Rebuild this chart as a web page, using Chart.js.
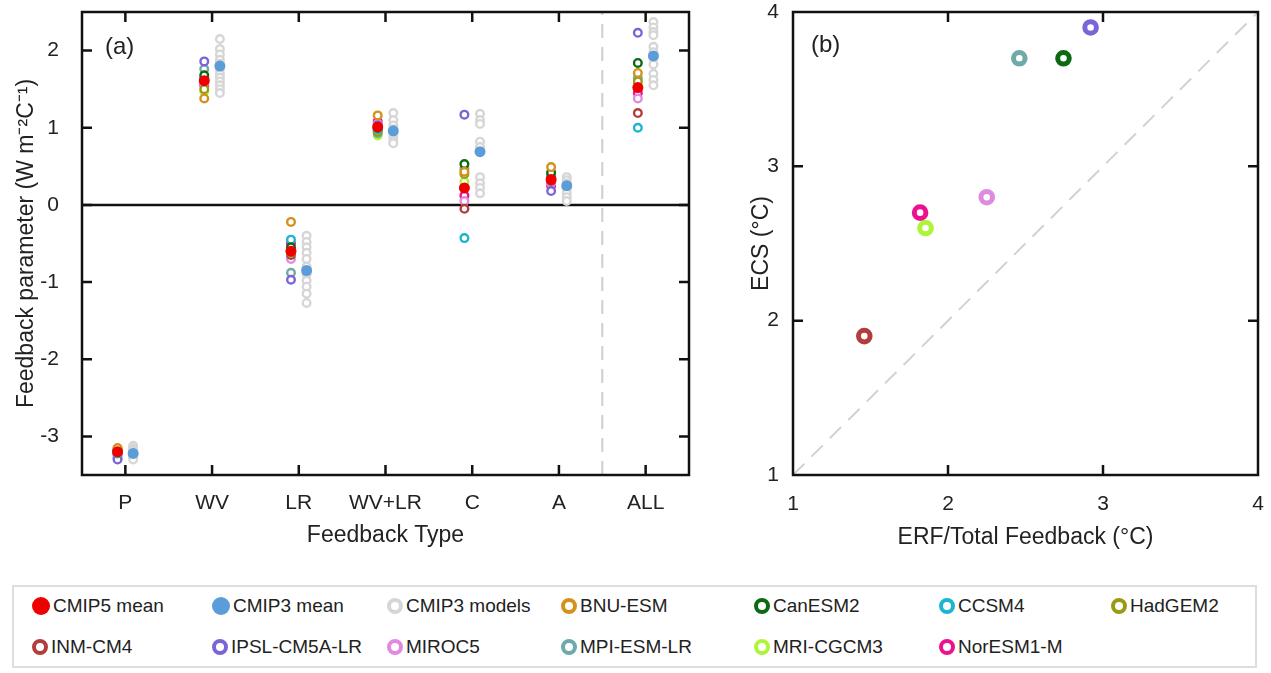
<!DOCTYPE html>
<html>
<head>
<meta charset="utf-8">
<script src="https://cdn.jsdelivr.net/npm/chart.js@4.4.1/dist/chart.umd.min.js"></script>
<style>
body { margin:0; background:#fff; width:1271px; height:673px; overflow:hidden; position:relative; font-family:"Liberation Sans", Arial, sans-serif; }
#chartA { position:absolute; left:0; top:0; }
#chartB { position:absolute; left:700px; top:0; }
#legend { position:absolute; left:12px; top:585px; width:1245px; height:83px; border:2px solid #dedede; box-sizing:border-box; }
.item { position:absolute; height:24px; display:flex; align-items:center; font-size:19px; color:#222; white-space:nowrap; }
.mk { box-sizing:border-box; border-radius:50%; margin-right:3px; }
</style>
</head>
<body>
<canvas id="chartA" width="700" height="560"></canvas>
<canvas id="chartB" width="571" height="560"></canvas>
<div id="legend"></div>
<script>
// feedback types on the x axis of panel (a)
var categories = ["P", "WV", "LR", "WV+LR", "C", "A", "ALL"];
var yTicksA = [-3, -2, -1, 0, 1, 2];
var ticksB = [1, 2, 3, 4];

// multi model means
var cmip5Mean = [-3.20, 1.61, -0.60, 1.01, 0.22, 0.33, 1.52];
var cmip3Mean = [-3.22, 1.80, -0.85, 0.96, 0.69, 0.25, 1.93];

// CMIP5 models, one value per feedback type
var bnuEsm   = [-3.15, 1.38, -0.22, 1.16, 0.43, 0.49, 1.71];
var canEsm2  = [-3.18, 1.68, -0.55, 1.00, 0.53, 0.42, 1.84];
var ccsm4    = [-3.22, 1.65, -0.45, 0.98, -0.43, 0.40, 1.00];
var hadGem2  = [-3.16, 1.50, -0.62, 0.95, 0.40, 0.37, 1.60];
var inmCm4   = [-3.20, 1.62, -0.65, 0.97, -0.05, 0.31, 1.19];
var ipslCm5a = [-3.30, 1.86, -0.97, 1.03, 1.17, 0.18, 2.23];
var miroc5   = [-3.25, 1.58, -0.70, 1.05, 0.05, 0.28, 1.38];
var mpiEsm   = [-3.28, 1.76, -0.88, 0.93, 0.47, 0.38, 1.64];
var mriCgcm3 = [-3.19, 1.47, -0.58, 0.90, 0.30, 0.35, 1.57];
var norEsm1  = [-3.23, 1.55, -0.50, 1.08, 0.12, 0.25, 1.45];

// CMIP3 models, all values for each feedback type
var cmip3P    = [-3.12, -3.15, -3.17, -3.19, -3.21, -3.23, -3.25, -3.27, -3.30];
var cmip3WV   = [2.15, 2.02, 1.95, 1.88, 1.83, 1.76, 1.70, 1.65, 1.60, 1.55, 1.50, 1.45];
var cmip3LR   = [-0.40, -0.48, -0.55, -0.62, -0.70, -0.80, -0.90, -0.98, -1.06, -1.15, -1.27];
var cmip3WVLR = [1.19, 1.10, 1.03, 0.98, 0.93, 0.88, 0.83, 0.80];
var cmip3C    = [1.18, 1.10, 1.05, 0.82, 0.75, 0.36, 0.28, 0.22, 0.15];
var cmip3A    = [0.36, 0.32, 0.28, 0.24, 0.20, 0.15, 0.10, 0.05];
var cmip3ALL  = [2.37, 2.30, 2.24, 2.20, 2.05, 1.98, 1.90, 1.82, 1.70, 1.62, 1.55];
var cmip3Models = [cmip3P, cmip3WV, cmip3LR, cmip3WVLR, cmip3C, cmip3A, cmip3ALL];

// panel (b): ERF / total feedback against ECS
var ecsModels = ["INM-CM4", "NorESM1-M", "MRI-CGCM3", "MIROC5", "MPI-ESM-LR", "CanESM2", "IPSL-CM5A-LR"];
var erfOverFeedback = [1.46, 1.82, 1.855, 2.25, 2.46, 2.745, 2.92];
var ecsValues = [1.90, 2.70, 2.60, 2.80, 3.70, 3.70, 3.90];

var colors = {
    "CMIP5 mean": "#ee0000",
    "CMIP3 mean": "#5b9dd9",
    "CMIP3 models": "#d6d6d6",
    "BNU-ESM": "#d4921c",
    "CanESM2": "#0b6a12",
    "CCSM4": "#1db4d2",
    "HadGEM2": "#9b9a14",
    "INM-CM4": "#b33c3c",
    "IPSL-CM5A-LR": "#7b63d8",
    "MIROC5": "#df8ae0",
    "MPI-ESM-LR": "#70a9a9",
    "MRI-CGCM3": "#aef53a",
    "NorESM1-M": "#ec128f"
};

var cmip5Models = [
    ["BNU-ESM", bnuEsm], ["CanESM2", canEsm2], ["CCSM4", ccsm4], ["HadGEM2", hadGem2],
    ["INM-CM4", inmCm4], ["IPSL-CM5A-LR", ipslCm5a], ["MIROC5", miroc5],
    ["MPI-ESM-LR", mpiEsm], ["MRI-CGCM3", mriCgcm3], ["NorESM1-M", norEsm1]
];

var FONT = '"Liberation Sans", Arial, sans-serif';
var TXT = '#222';

// fixed axis box sizes, no extra padding for edge labels
function fixX(h) {
    return function(s) { s.height = h; s.paddingLeft = 0; s.paddingRight = 0; };
}
function fixY(w) {
    return function(s) { s.width = w; s.paddingTop = 0; s.paddingBottom = 0; };
}

// frame with inward ticks on all four sides + panel letter
function framePlugin(xt, yt, letter, lx, ly) {
    return {
        id: 'frame',
        afterDatasetsDraw: function(chart) {
            var c = chart.ctx, a = chart.chartArea;
            var sx = chart.scales.x, sy = chart.scales.y;
            c.save();
            c.strokeStyle = '#111';
            c.lineWidth = 2.5;
            c.strokeRect(a.left, a.top, a.right - a.left, a.bottom - a.top);
            c.beginPath();
            xt.forEach(function(v) {
                var p = sx.getPixelForValue(v);
                c.moveTo(p, a.top); c.lineTo(p, a.top + 10);
                c.moveTo(p, a.bottom); c.lineTo(p, a.bottom - 10);
            });
            yt.forEach(function(v) {
                var p = sy.getPixelForValue(v);
                c.moveTo(a.left, p); c.lineTo(a.left + 10, p);
                c.moveTo(a.right, p); c.lineTo(a.right - 10, p);
            });
            c.stroke();
            c.fillStyle = TXT;
            c.font = '24px ' + FONT;
            c.textBaseline = 'middle';
            c.fillText(letter, a.left + lx, ly);
            c.restore();
        }
    };
}

function panelA() {
    var datasets = [];
    // CMIP5 mean on top
    datasets.push({
        label: "CMIP5 mean",
        data: cmip5Mean.map(function(v, i) { return {x: i - 0.09, y: v}; }),
        pointRadius: 5.5, borderWidth: 0,
        backgroundColor: colors["CMIP5 mean"], order: 1
    });
    cmip5Models.forEach(function(m) {
        datasets.push({
            label: m[0],
            data: m[1].map(function(v, i) { return {x: i - 0.09, y: v}; }),
            pointRadius: 3.8, borderWidth: 2.4,
            borderColor: colors[m[0]], backgroundColor: '#fff', order: 2
        });
    });
    datasets.push({
        label: "CMIP3 mean",
        data: cmip3Mean.map(function(v, i) { return {x: i + 0.09, y: v}; }),
        pointRadius: 5.5, borderWidth: 0,
        backgroundColor: colors["CMIP3 mean"], order: 3
    });
    var grey = [];
    cmip3Models.forEach(function(list, i) {
        list.forEach(function(v) { grey.push({x: i + 0.09, y: v}); });
    });
    datasets.push({
        label: "CMIP3 models", data: grey,
        pointRadius: 3.8, borderWidth: 2.4,
        borderColor: colors["CMIP3 models"], backgroundColor: '#fff', order: 4
    });
    // zero line and separator
    datasets.push({
        data: [{x: -0.5, y: 0}, {x: 6.5, y: 0}], showLine: true, pointRadius: 0,
        borderColor: '#111', borderWidth: 2.5, order: 8
    });
    datasets.push({
        data: [{x: 5.5, y: -3.5}, {x: 5.5, y: 2.5}], showLine: true, pointRadius: 0,
        borderColor: '#cfcfcf', borderWidth: 2, borderDash: [14, 9], order: 9
    });

    new Chart(document.getElementById("chartA"), {
        type: 'scatter',
        data: {datasets: datasets},
        options: {
            responsive: false, animation: false,
            layout: {padding: {left: 0, right: 11, top: 12, bottom: 0}},
            plugins: {legend: {display: false}, tooltip: {enabled: false}},
            scales: {
                x: {
                    type: 'linear', min: -0.5, max: 6.5,
                    afterBuildTicks: function(s) { s.ticks = categories.map(function(c, i) { return {value: i}; }); },
                    afterFit: fixX(85),
                    grid: {display: false}, border: {display: false},
                    ticks: {
                        autoSkip: false, maxRotation: 0, padding: 8, color: TXT,
                        font: {family: FONT, size: 21},
                        callback: function(v) { return categories[v]; }
                    },
                    title: {display: true, text: 'Feedback Type', color: TXT,
                        font: {family: FONT, size: 23}, padding: {top: 0, bottom: 11}}
                },
                y: {
                    min: -3.5, max: 2.5,
                    afterBuildTicks: function(s) { s.ticks = yTicksA.map(function(v) { return {value: v}; }); },
                    afterFit: fixY(82),
                    grid: {display: false}, border: {display: false},
                    ticks: {padding: 15, color: TXT, font: {family: FONT, size: 21}},
                    title: {display: true, text: 'Feedback parameter (W m\u207B\u00B2C\u207B\u00B9)', color: TXT,
                        font: {family: FONT, size: 23}, padding: {top: 13, bottom: 0}}
                }
            }
        },
        plugins: [framePlugin([0, 1, 2, 3, 4, 5, 6], yTicksA, '(a)', 23, 47)]
    });
}

function panelB() {
    var datasets = ecsModels.map(function(name, i) {
        return {
            label: name,
            data: [{x: erfOverFeedback[i], y: ecsValues[i]}],
            pointRadius: 5.8, borderWidth: 5,
            borderColor: colors[name], backgroundColor: '#fff', order: 1
        };
    });
    datasets.push({
        data: [{x: 1, y: 1}, {x: 4, y: 4}], showLine: true, pointRadius: 0,
        borderColor: '#d2d2d2', borderWidth: 2, borderDash: [16, 10], order: 5
    });

    new Chart(document.getElementById("chartB"), {
        type: 'scatter',
        data: {datasets: datasets},
        options: {
            responsive: false, animation: false,
            layout: {padding: {left: 0, right: 13, top: 12, bottom: 0}},
            plugins: {legend: {display: false}, tooltip: {enabled: false}},
            scales: {
                x: {
                    type: 'linear', min: 1, max: 4,
                    afterBuildTicks: function(s) { s.ticks = ticksB.map(function(v) { return {value: v}; }); },
                    afterFit: fixX(85),
                    grid: {display: false}, border: {display: false},
                    ticks: {padding: 9, color: TXT, font: {family: FONT, size: 21}},
                    title: {display: true, text: 'ERF/Total Feedback (\u00B0C)', color: TXT,
                        font: {family: FONT, size: 23}, padding: {top: 0, bottom: 9}}
                },
                y: {
                    min: 1, max: 4,
                    afterBuildTicks: function(s) { s.ticks = ticksB.map(function(v) { return {value: v}; }); },
                    afterFit: fixY(93),
                    grid: {display: false}, border: {display: false},
                    ticks: {padding: 6, color: TXT, font: {family: FONT, size: 21}},
                    title: {display: true, text: 'ECS (\u00B0C)', color: TXT,
                        font: {family: FONT, size: 23}, padding: {top: 48, bottom: 0}}
                }
            }
        },
        plugins: [framePlugin([2, 3], [2, 3], '(b)', 18, 45)]
    });
}

// legend below both panels
function buildLegend() {
    var entries = [
        ["CMIP5 mean", "fill"], ["CMIP3 mean", "fill"], ["CMIP3 models", "ring"], ["BNU-ESM", "ring"],
        ["CanESM2", "ring"], ["CCSM4", "ring"], ["HadGEM2", "ring"],
        ["INM-CM4", "ring"], ["IPSL-CM5A-LR", "ring"], ["MIROC5", "ring"], ["MPI-ESM-LR", "ring"],
        ["MRI-CGCM3", "ring"], ["NorESM1-M", "ring"]
    ];
    var colX = [41, 221, 396, 570, 763, 948, 1120];
    var rowY = [606, 647];
    var box = document.getElementById("legend");
    entries.forEach(function(e, i) {
        var col = i % 7, row = Math.floor(i / 7);
        var it = document.createElement("div");
        it.className = "item";
        it.style.left = (colX[col] - 9 - 14) + "px";
        it.style.top = (rowY[row] - 585 - 2 - 12) + "px";
        var mk = document.createElement("span");
        mk.className = "mk";
        if (e[1] === "fill") {
            mk.style.width = "18px"; mk.style.height = "18px";
            mk.style.background = colors[e[0]];
        } else {
            mk.style.width = "16px"; mk.style.height = "16px";
            mk.style.border = "4px solid " + colors[e[0]];
        }
        it.appendChild(mk);
        it.appendChild(document.createTextNode(e[0]));
        box.appendChild(it);
    });
}

panelA();
panelB();
buildLegend();
</script>
</body>
</html>
